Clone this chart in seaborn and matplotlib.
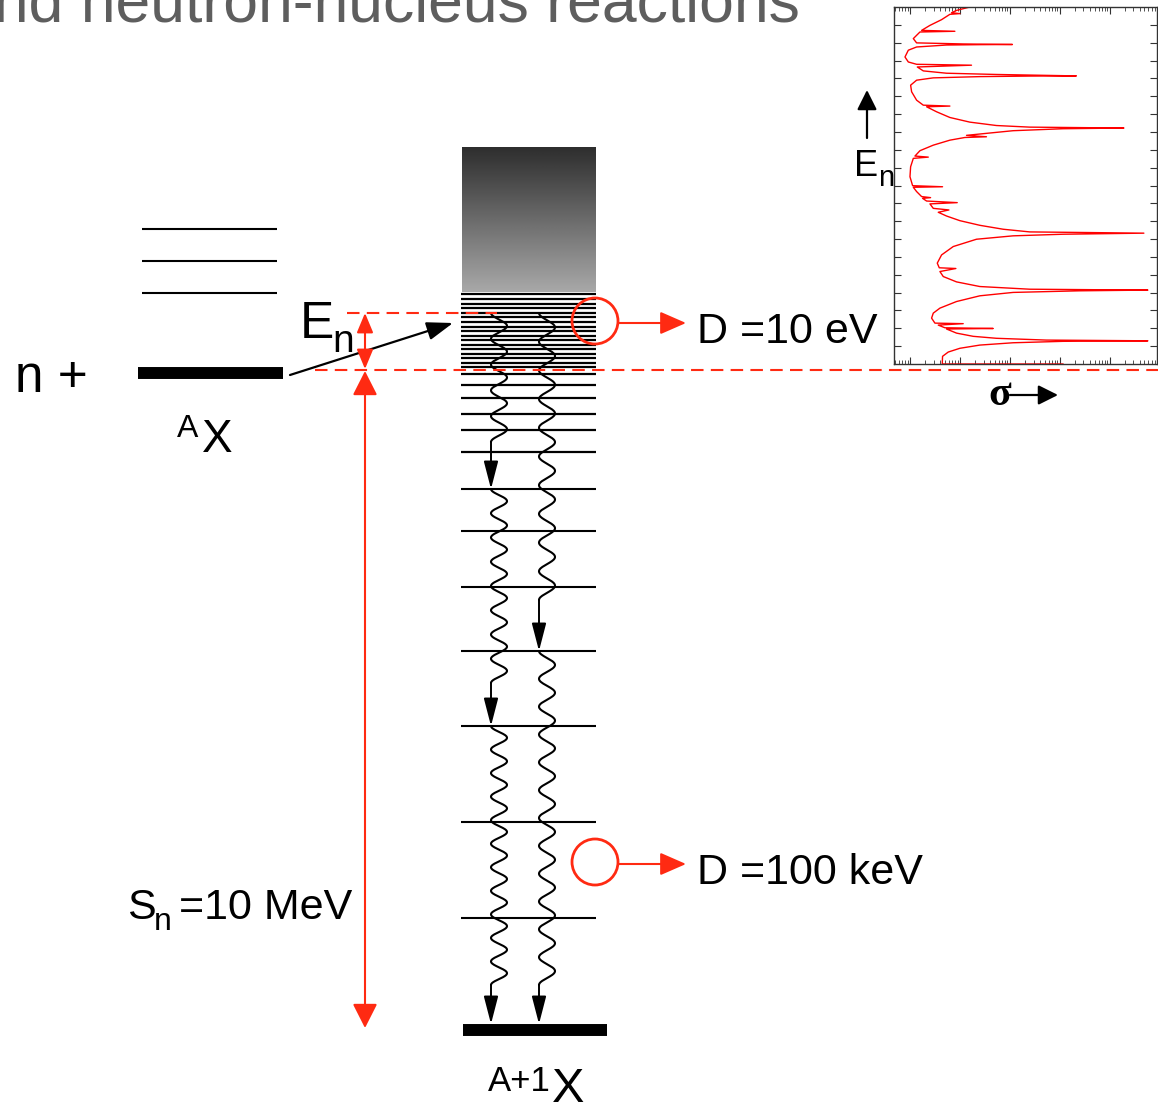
import numpy as np
import matplotlib
matplotlib.use("Agg")
import matplotlib.pyplot as plt
import seaborn as sns
from matplotlib.patches import Circle

sns.set_style("white")
plt.rcParams["font.family"] = ["Liberation Sans", "DejaVu Sans"]
plt.rcParams["text.color"] = "black"

RED = "#ff2a12"

# level scheme (diagram units, y grows downward)
target_levels = [229, 261, 293]
target_ground = 373
dense_levels = [294, 299, 304, 308, 313, 317, 322, 327, 331, 336, 340, 345,
                349, 354, 358, 363, 367, 374, 385, 398, 414, 430, 452]
discrete_levels = [489, 531, 587, 651, 726, 822, 918]
compound_ground = 1030
neutron_threshold = 370
neutron_energy = 313

# gamma cascades: (wave start, wave end, level reached)
cascade_left = [(313, 442, 489), (489, 683, 726), (726, 985, 1024)]
cascade_right = [(313, 600, 651), (651, 985, 1024)]

# inset: cross section vs neutron energy
En = [0.0, 0.0, 0.02, 0.43, 0.67, 0.88, 1.06, 1.19, 1.27, 1.30,
      1.34, 1.44, 1.55, 1.73, 1.96, 1.99, 2.03, 2.18, 2.26, 2.29, 2.57, 2.85, 3.13, 3.50, 3.82, 4.01, 4.10, 4.14,
      4.19, 4.34, 4.60, 4.90, 5.18, 5.35, 5.39, 5.65, 6.11, 6.58, 6.99, 7.18, 7.27, 7.33,
      7.40, 7.55, 7.77, 8.03, 8.29, 8.50, 8.63, 8.72, 8.97, 9.04, 9.13, 9.28, 9.32, 9.38, 9.66, 9.90,
      9.93, 9.99, 10.49, 11.05, 11.52, 11.59, 11.65, 11.95, 12.26, 12.54, 12.69, 12.73, 12.81, 13.07, 13.18, 13.22,
      13.27, 13.36, 13.55, 13.81, 14.13, 14.41, 14.45, 14.50, 14.78, 15.25, 15.62, 15.90, 16.03, 16.10, 16.13, 16.14,
      16.22, 16.29, 16.42, 16.64, 16.74, 16.79, 16.92, 17.20, 17.58, 17.76, 17.87, 17.89, 17.90,
      17.93, 17.99, 18.23, 18.60, 18.64, 18.69, 18.97, 19.29, 19.59, 19.63, 19.68, 19.81, 20.0]
sigma_exp = [4.07, 1.67, 1.647, 1.653, 1.767, 2.0, 2.4, 3.067, 4.067, 5.767,
             3.733, 2.733, 2.267, 1.933, 1.733, 2.667, 1.70, 1.567, 2.067, 1.50, 1.433, 1.467, 1.60, 1.933, 2.40, 3.067, 4.40, 5.767,
             3.40, 2.40, 1.933, 1.667, 1.60, 1.92, 1.587, 1.547, 1.633, 1.867, 2.333, 3.067, 4.067, 5.687,
             3.40, 2.867, 2.40, 2.0, 1.733, 1.567, 1.78, 1.467, 1.40, 1.947, 1.333, 1.253, 1.413, 1.233, 1.133, 1.067,
             1.653, 1.053, 1.0, 1.013, 1.067, 1.367, 1.10, 1.20, 1.467, 1.80, 2.10, 2.533, 2.133, 3.067, 4.067, 5.287,
             3.40, 2.733, 2.20, 1.80, 1.533, 1.333, 1.80, 1.267, 1.133, 1.033, 1.013, 1.133, 1.467, 2.40, 3.40, 4.333,
             2.733, 1.733, 1.267, 1.147, 2.233, 1.133, 0.967, 0.90, 0.967, 1.133, 1.733, 2.40, 3.053,
             2.067, 1.133, 1.067, 1.20, 1.90, 1.233, 1.40, 1.633, 1.80, 2.0, 1.833, 1.933, 2.20]
sigma = 10.0 ** np.array(sigma_exp)


def wavy(ax, x0, ys, ye, period, amp=8):
    n = max(1, round((ye - ys) / period))
    y = np.linspace(ys, ye, 400)
    x = x0 + amp * (1 - np.cos(2 * np.pi * n * (y - ys) / (ye - ys)))
    ax.plot(x, y, color="black", lw=1.5, solid_capstyle="round")


def arrow(ax, start, end, color="black", style="-|>", hl=0.85, hw=0.22, lw=1.4, ms=20):
    ax.annotate("", xy=end, xytext=start,
                arrowprops=dict(arrowstyle=f"{style},head_length={hl},head_width={hw}",
                                color=color, lw=lw, shrinkA=0, shrinkB=0,
                                mutation_scale=ms))


fig = plt.figure(figsize=(11.58, 11.11), dpi=100)
ax = fig.add_axes([0, 0, 1, 1])

# title (cut off at the top like the slide)
ax.text(800, 21, "and neutron-nucleus reactions", ha="right", va="baseline",
        fontsize=45, color="#5e5e5e")

# target nucleus A X
ax.hlines(target_levels, 142, 277, color="black", lw=1.5)
ax.hlines(target_ground, 138, 283, color="black", lw=8.6, capstyle="butt")
ax.text(15, 392, "n +", fontsize=37, va="baseline")
ax.text(177, 437, "A", fontsize=23, va="baseline")
ax.text(202, 452, "X", fontsize=33, va="baseline")

# compound nucleus continuum
grad = np.linspace(0.18, 0.66, 200)[:, None]
ax.imshow(grad, extent=(462, 596, 292, 147), cmap="gray", vmin=0, vmax=1,
          aspect="auto", zorder=1)
ax.hlines(dense_levels, 461, 596, color="black", lw=1.6, zorder=2)
ax.hlines(discrete_levels, 461, 596, color="black", lw=1.5, zorder=2)
ax.hlines(compound_ground, 463, 607, color="black", lw=8.6, capstyle="butt", zorder=2)
ax.text(488, 1091, "A+1", fontsize=25, va="baseline")
ax.text(552, 1102, "X", fontsize=35, va="baseline")

# gamma cascades
for ys, ye, tip in cascade_left:
    wavy(ax, 491, ys, ye, 24)
    arrow(ax, (491, ye), (491, tip))
for ys, ye, tip in cascade_right:
    wavy(ax, 539, ys, ye, 29)
    arrow(ax, (539, ye), (539, tip))

# capture arrow
arrow(ax, (290, 375), (453, 323), hl=0.8, hw=0.28, lw=1.6)

# thresholds
ax.hlines(neutron_energy, 347, 497, color=RED, lw=1.5, linestyles=(0, (6, 3.5)), zorder=3)
ax.hlines(neutron_threshold, 315, 1158, color=RED, lw=1.5, linestyles=(0, (6, 3.5)), zorder=3)
arrow(ax, (365, neutron_energy), (365, neutron_threshold - 1), color=RED, style="<|-|>",
      hl=0.6, hw=0.25, lw=1.5)
arrow(ax, (365, neutron_threshold + 1), (365, 1028), color=RED, style="<|-|>",
      hl=0.75, hw=0.38, lw=1.5)

ax.text(300, 338, "E", fontsize=37, va="baseline")
ax.text(332, 352, "n", fontsize=28, va="baseline")
ax.text(127, 919, "S", fontsize=31, va="baseline")
ax.text(154, 930, "n", fontsize=23, va="baseline")
ax.text(179, 919, "=10 MeV", fontsize=31, va="baseline")

# level spacing markers
for cy, label in [(321, "D =10 eV"), (862, "D =100 keV")]:
    ax.add_patch(Circle((595, cy), 23, fill=False, ec=RED, lw=2, zorder=4))
    arrow(ax, (618, cy + 2), (686, cy + 2), color=RED, hl=0.8, hw=0.35, lw=1.5)
    ax.text(697, cy + 22, label, fontsize=31, va="baseline")

# inset axis labels
arrow(ax, (867, 138), (867, 90), hl=0.6, hw=0.3, lw=1.6)
ax.text(854, 176, "E", fontsize=26, va="baseline")
ax.text(878, 186, "n", fontsize=21, va="baseline")
ax.text(988, 405, "σ", fontsize=30, va="baseline", family=["Liberation Serif", "DejaVu Serif"],
        fontweight="bold")
arrow(ax, (1010, 395), (1058, 395), hl=0.6, hw=0.3, lw=1.6)

ax.set_xlim(0, 1158)
ax.set_ylim(1111, 0)
ax.axis("off")

# inset resonance spectrum
axin = fig.add_axes([894 / 1158, (1111 - 364) / 1111, 263 / 1158, 357 / 1111])
sns.lineplot(x=sigma, y=En, sort=False, estimator=None, color="red", lw=1.0, ax=axin)
axin.set_xscale("log")
axin.set_xlim(10 ** 0.68, 10 ** 5.95)
axin.set_ylim(0, 20)
axin.set_yticks(np.arange(1, 20))
axin.tick_params(which="both", direction="in", top=True, right=True, left=True, bottom=True,
                 labelleft=False, labelbottom=False, color="#333333")
axin.tick_params(which="major", length=5, width=0.8)
axin.tick_params(which="minor", length=3, width=0.6)
axin.set_xlabel("")
axin.set_ylabel("")
for s in axin.spines.values():
    s.set_color("#333333")
    s.set_linewidth(1.0)

fig.savefig("out.png", dpi=100)
